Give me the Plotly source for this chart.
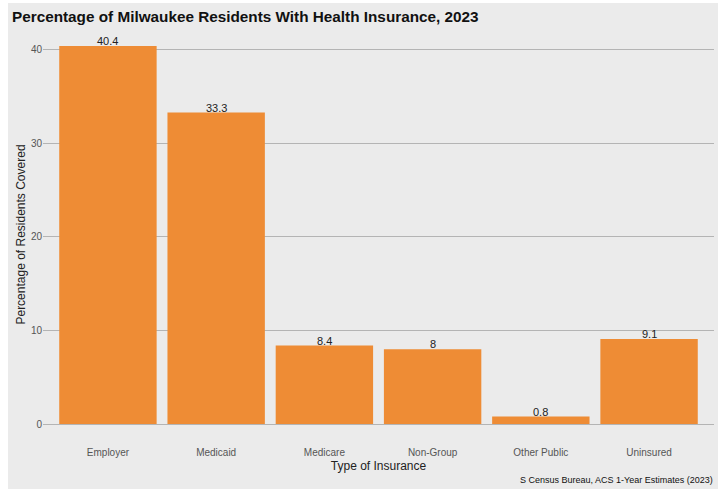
import plotly.graph_objects as go

categories = ["Employer", "Medicaid", "Medicare", "Non-Group", "Other Public", "Uninsured"]
values = [40.4, 33.3, 8.4, 8, 0.8, 9.1]
labels = ["40.4", "33.3", "8.4", "8", "0.8", "9.1"]
y_ticks = [0, 10, 20, 30, 40]

W, H = 723, 489
L, R, T, B = 43, 9, 26, 46
pw, ph = W - L - R, H - T - B

def px_x(p):
    return (p - L) / pw

def px_y(p):
    return (H - B - p) / ph

fig = go.Figure()
fig.add_trace(go.Bar(
    x=categories, y=values,
    marker=dict(color="#EE8C35", line=dict(width=0)),
    width=0.9, hoverinfo="skip",
))

fig.add_shape(type="rect", xref="paper", yref="paper",
              x0=px_x(8), x1=px_x(718), y0=px_y(489), y1=px_y(3),
              fillcolor="#EBEBEB", line=dict(width=0), layer="below")

annotations = [dict(x=c, y=v, text=t, xref="x", yref="y", showarrow=False,
                    xanchor="center", yanchor="bottom", yshift=-3,
                    font=dict(size=11, color="#222222"))
               for c, v, t in zip(categories, values, labels)]
annotations.append(dict(text="S Census Bureau, ACS 1-Year Estimates (2023)",
                        xref="paper", yref="paper", x=px_x(715), y=px_y(480),
                        xanchor="right", yanchor="middle", showarrow=False,
                        font=dict(size=9, color="#111111")))

fig.update_layout(
    width=W, height=H,
    margin=dict(l=L, r=R, t=T, b=B),
    paper_bgcolor="white", plot_bgcolor="rgba(0,0,0,0)",
    font=dict(family="Liberation Sans, Arial", color="#333333"),
    showlegend=False,
    bargap=0.1,
    title=dict(text="<b>Percentage of Milwaukee Residents With Health Insurance, 2023</b>",
               x=12 / W, xref="container", xanchor="left",
               y=1 - 17 / H, yref="container", yanchor="middle",
               font=dict(size=15.3, color="#111111", family="Liberation Sans, Arial")),
    xaxis=dict(range=[-0.6, 5.6], showgrid=False, zeroline=False, showline=False,
               ticks="", tickfont=dict(size=10, color="#555555"), ticklabelstandoff=2,
               title=dict(text="Type of Insurance", font=dict(size=12, color="#222222"), standoff=4)),
    yaxis=dict(range=[-2.02, 42.55], tickvals=y_ticks, ticktext=[str(v) for v in y_ticks],
               showgrid=True, gridcolor="#B4B4B4", gridwidth=1, zeroline=False,
               showline=False, ticks="", tickfont=dict(size=10, color="#555555"),
               title=dict(text="Percentage of Residents Covered", font=dict(size=12, color="#222222"), standoff=2)),
    annotations=annotations,
)

fig.write_html("out.html")
